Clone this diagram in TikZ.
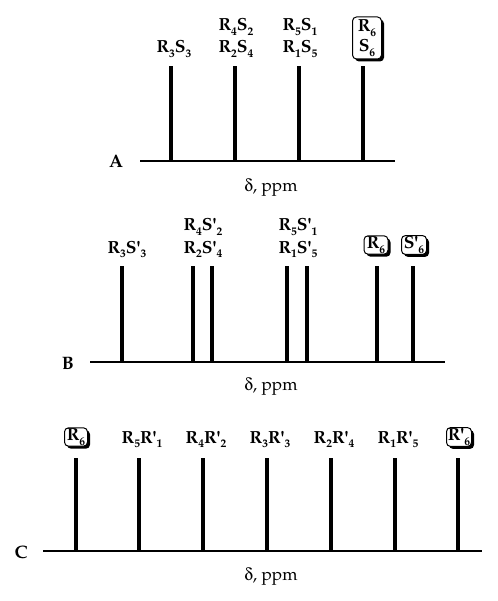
\documentclass[tikz,border=0pt]{standalone}
\usepackage[T1]{fontenc}
\usepackage{mathpazo}
\usepackage[Symbol]{upgreek}
\usetikzlibrary{shadows}
\newcommand{\lo}[1]{\raisebox{-4.5pt}{\fontsize{11.5}{11.5}\selectfont #1}}
\newcommand{\pr}{\textquotesingle}
\tikzset{
  peak/.style={line width=4.2pt},
  axisline/.style={line width=1.1pt},
  lab/.style={anchor=base, inner sep=0pt, font=\fontsize{17.5}{20}\selectfont\bfseries},
  panel/.style={anchor=base, inner sep=0pt, font=\fontsize{18}{20}\selectfont\bfseries},
  ppm/.style={anchor=base, inner sep=0pt, font=\fontsize{17.3}{20}\selectfont},
  boxed/.style={draw, line width=1pt, rounded corners=4pt, fill=white, inner sep=1pt,
     font=\fontsize{17.5}{20}\selectfont\bfseries, align=center,
     drop shadow={shadow xshift=2.5pt, shadow yshift=-2.5pt, fill=black, opacity=1}}
}
\begin{document}
\begin{tikzpicture}[x=1pt, y=-1pt]
\useasboundingbox (0,0) rectangle (497,601);
% ---------- Panel A ----------
\coordinate (a0) at (140,161);
\coordinate (a1) at (395,161);
\draw[axisline] (a0) -- (a1);
\foreach \x in {171,235,299,363} \draw[peak] (\x,161) -- (\x,66);
\node[panel] (lA) at (116,168) {A};
\node[lab] (a3) at (174,53) {R\lo{3}S\lo{3}};
\node[lab] (a42) at (236,31) {R\lo{4}S\lo{2}};
\node[lab] (a24) at (236,53) {R\lo{2}S\lo{4}};
\node[lab] (a51) at (300,31) {R\lo{5}S\lo{1}};
\node[lab] (a15) at (300,53) {R\lo{1}S\lo{5}};
\node[boxed, minimum width=29pt, minimum height=42pt] (a6) at (367,38) {R\lo{6}\\[0pt]S\lo{6}};
\node[ppm] (dA) at (271,192) {$\updelta$, ppm};
% ---------- Panel B ----------
\coordinate (b0) at (90,362);
\coordinate (b1) at (445,362);
\draw[axisline] (b0) -- (b1);
\foreach \x in {122,193,212,287,307,377,413} \draw[peak] (\x,362) -- (\x,266);
\node[panel] (lB) at (68,369) {B};
\node[lab] (b3) at (127,253) {R\lo{3}S\pr\lo{3}};
\node[lab] (b42) at (203,231) {R\lo{4}S\pr\lo{2}};
\node[lab] (b24) at (203,253) {R\lo{2}S\pr\lo{4}};
\node[lab] (b51) at (298,231) {R\lo{5}S\pr\lo{1}};
\node[lab] (b15) at (298,253) {R\lo{1}S\pr\lo{5}};
\node[boxed, minimum width=24pt, minimum height=17pt] (b6) at (376,245) {R\lo{6}};
\node[boxed, minimum width=25pt, minimum height=17pt] (bs6) at (414,245) {S\pr\lo{6}};
\node[ppm] (dB) at (271,390) {$\updelta$, ppm};
% ---------- Panel C ----------
\coordinate (c0) at (43,551);
\coordinate (c1) at (482,551);
\draw[axisline] (c0) -- (c1);
\foreach \x in {76,139,203,267,331,395,458} \draw[peak] (\x,551) -- (\x,458);
\node[panel] (lC) at (21,558) {C};
\node[boxed, minimum width=23pt, minimum height=18pt] (c6) at (76,437) {R\lo{6}};
\node[lab] (c51) at (142,443) {R\lo{5}R\pr\lo{1}};
\node[lab] (c42) at (206,443) {R\lo{4}R\pr\lo{2}};
\node[lab] (c33) at (270,443) {R\lo{3}R\pr\lo{3}};
\node[lab] (c24) at (334,443) {R\lo{2}R\pr\lo{4}};
\node[lab] (c15) at (398,443) {R\lo{1}R\pr\lo{5}};
\node[boxed, minimum width=25pt, minimum height=18pt] (cr6) at (459,437) {R\pr\lo{6}};
\node[ppm] (dC) at (271,580) {$\updelta$, ppm};
\end{tikzpicture}
\end{document}
